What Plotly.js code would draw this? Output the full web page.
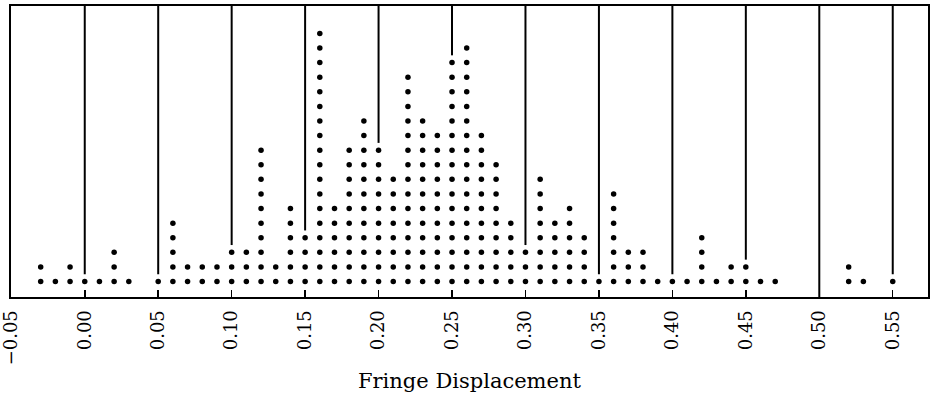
<!DOCTYPE html>
<html>
<head>
<meta charset="utf-8">
<script src="https://cdn.plot.ly/plotly-3.0.1.min.js"></script>
<style>html,body{margin:0;padding:0;background:#fff;}#chart{width:936px;height:409px;}</style>
</head>
<body>
<div id="chart"></div>
<script>
// Fringe displacement values (bins of 0.01) and number of observations (dots) in each bin
var displacements = [-0.03,-0.02,-0.01,0.00,0.01,0.02,0.03,0.04,0.05,0.06,0.07,0.08,0.09,
  0.10,0.11,0.12,0.13,0.14,0.15,0.16,0.17,0.18,0.19,0.20,0.21,0.22,0.23,0.24,0.25,0.26,
  0.27,0.28,0.29,0.30,0.31,0.32,0.33,0.34,0.35,0.36,0.37,0.38,0.39,0.40,0.41,0.42,0.43,
  0.44,0.45,0.46,0.47,0.48,0.49,0.50,0.51,0.52,0.53,0.54,0.55];
var counts = [2,1,2,1,1,3,1,0,1,5,2,2,2,
  3,3,10,2,6,4,18,6,10,12,10,8,15,12,11,16,17,
  11,9,5,3,8,5,6,4,1,7,3,3,1,1,1,4,1,
  2,2,1,1,0,0,0,0,2,1,0,1];
var tickValues = [-0.05,0.00,0.05,0.10,0.15,0.20,0.25,0.30,0.35,0.40,0.45,0.50,0.55];
var tickLabels = ["\u22120.05","0.00","0.05","0.10","0.15","0.20","0.25","0.30","0.35","0.40","0.45","0.50","0.55"];
var axisTitle = "Fringe Displacement";

var yTop = 19.88;
// build the dot stacks
var dx = [], dy = [];
for (var i = 0; i < displacements.length; i++) {
  for (var k = 1; k <= counts[i]; k++) { dx.push(displacements[i]); dy.push(k); }
}
// vertical guide lines at every 0.05, stopping just above the top dot
var gx = [], gy = [];
for (var j = 1; j < tickValues.length; j++) {
  var v = tickValues[j], c = 0;
  for (var i2 = 0; i2 < displacements.length; i2++) {
    if (Math.abs(displacements[i2] - v) < 1e-6) c = counts[i2];
  }
  gx.push(v, v, null);
  gy.push(c > 0 ? c + 0.5 : -0.06, yTop, null);
}

var traces = [
  {x: gx, y: gy, mode: 'lines', type: 'scatter', line: {color: '#000', width: 2}, hoverinfo: 'skip', showlegend: false},
  {x: dx, y: dy, mode: 'markers', type: 'scatter', marker: {color: '#000', size: 5.5}, showlegend: false}
];

var serif = '"DejaVu Serif", "Liberation Serif", serif';
var layout = {
  width: 936, height: 409,
  margin: {l: 11, r: 8, t: 6, b: 112},
  paper_bgcolor: '#fff', plot_bgcolor: '#fff',
  showlegend: false,
  xaxis: {
    range: [-0.0502, 0.5740],
    tickmode: 'array', tickvals: tickValues, ticktext: tickLabels,
    tickangle: -90,
    ticks: 'inside', ticklen: 7, tickwidth: 1.5, tickcolor: '#000',
    ticklabelstandoff: 4,
    ticklabeloverflow: 'allow',
    tickfont: {family: serif, size: 18, color: '#000'},
    showgrid: false, zeroline: false,
    showline: true, linecolor: '#000', linewidth: 2, mirror: true,
    fixedrange: true
  },
  yaxis: {
    range: [-0.06, yTop],
    showticklabels: false, ticks: '', showgrid: false, zeroline: false,
    showline: true, linecolor: '#000', linewidth: 2, mirror: true,
    fixedrange: true
  },
  annotations: [{
    text: axisTitle, xref: 'paper', yref: 'paper', x: 0.5, y: -0.29,
    xanchor: 'center', yanchor: 'middle', showarrow: false,
    font: {family: serif, size: 21, color: '#000'}
  }]
};
Plotly.newPlot('chart', traces, layout, {displayModeBar: false, staticPlot: true});
</script>
</body>
</html>
